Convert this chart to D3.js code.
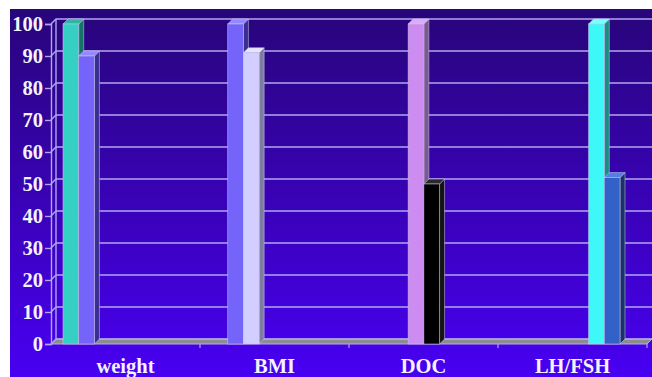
<!DOCTYPE html>
<html>
<head>
<meta charset="utf-8">
<script src="https://cdn.jsdelivr.net/npm/d3@7/dist/d3.min.js"></script>
<style>
  html, body { margin: 0; padding: 0; background: #ffffff; }
  svg { display: block; }
</style>
</head>
<body>
<svg id="chart" width="652" height="377"></svg>
<script>
// Categories along the floor of the chart
const categories = ["weight", "BMI", "DOC", "LH/FSH"];
// Series slot (column position) used by each bar in each category
const barSlots = [[0, 1], [1, 2], [3, 4], [5, 6]];
// Bar values per category, in the same order as barSlots
const barValues = [[100, 90], [100, 91], [100, 50], [100, 52]];
// Value-axis tick labels
const yTicks = [0, 10, 20, 30, 40, 50, 60, 70, 80, 90, 100];

// Face colours per series slot: front, side, top
const slotColors = [
  { front: "#36cfc4", side: "#167466", top: "#2fb3a2" },
  { front: "#7464fa", side: "#3a2e92", top: "#9587ff" },
  { front: "#d2ceff", side: "#7f7ca2", top: "#e6e4ff" },
  { front: "#cc8cf0", side: "#7a5a92", top: "#dcaaf8" },
  { front: "#000000", side: "#141414", top: "#2a2a2a" },
  { front: "#3ef8f8", side: "#1a8c82", top: "#7affff" },
  { front: "#3262c8", side: "#1a326c", top: "#5282e0" }
];

const svg = d3.select("#chart");
const W = 652, H = 377;

// Background panel with vertical gradient
const defs = svg.append("defs");
const grad = defs.append("linearGradient").attr("id", "bg")
  .attr("x1", 0).attr("y1", 0).attr("x2", 0).attr("y2", 1);
grad.append("stop").attr("offset", "0%").attr("stop-color", "#28057a");
grad.append("stop").attr("offset", "55%").attr("stop-color", "#3a02ba");
grad.append("stop").attr("offset", "100%").attr("stop-color", "#4800f2");
svg.append("rect").attr("x", 10).attr("y", 9).attr("width", W - 10).attr("height", H - 9)
  .attr("fill", "url(#bg)");

// 3D geometry: front plane and depth offset
const front = { left: 51, right: 647 };
const depth = { dx: 5, dy: -5 };

const y = d3.scaleLinear().domain([0, 100]).range([344, 24]);
const x0 = d3.scaleBand().domain(categories).range([front.left, front.right]).padding(0);
const x1 = d3.scaleBand().domain(d3.range(slotColors.length)).range([12, 122]).padding(0);

const gridColor = "#aea6ee";
const labelColor = "#f4f2ff";

// Floor slab
const y0 = y(0);
svg.append("polygon")
  .attr("points", [
    [front.left, y0], [front.right, y0],
    [front.right + depth.dx, y0 + depth.dy], [front.left + depth.dx, y0 + depth.dy]
  ].map(p => p.join(",")).join(" "))
  .attr("fill", "#8d8d8d")
  .attr("stroke", "#b4aee6").attr("stroke-width", 1);

// Gridlines: short diagonal on the side wall, then across the back wall
const grid = svg.append("g");
yTicks.forEach(t => {
  const yy = y(t);
  grid.append("path")
    .attr("d", `M${front.left},${yy}L${front.left + depth.dx},${yy + depth.dy}L${front.right + depth.dx},${yy + depth.dy}`)
    .attr("fill", "none").attr("stroke", gridColor).attr("stroke-width", 1.4);
});
// Back wall left edge
grid.append("line")
  .attr("x1", front.left + depth.dx).attr("x2", front.left + depth.dx)
  .attr("y1", y(0) + depth.dy).attr("y2", y(100) + depth.dy)
  .attr("stroke", gridColor).attr("stroke-width", 1.4);

// Value axis line and ticks
const axisY = svg.append("g")
  .attr("transform", `translate(${front.left},0)`)
  .call(d3.axisLeft(y).tickValues(yTicks).tickSize(6).tickPadding(2).tickFormat(d3.format("d")));
axisY.select(".domain").attr("stroke", gridColor).attr("stroke-width", 1.4);
axisY.selectAll(".tick line").attr("stroke", gridColor).attr("stroke-width", 1.4);
axisY.selectAll(".tick text")
  .attr("fill", labelColor)
  .attr("font-family", "'Liberation Serif', 'Times New Roman', serif")
  .attr("font-weight", "bold")
  .attr("font-size", 20.5)
  .attr("dy", "0.34em");

// Category axis: boundary ticks and labels
const axisX = svg.append("g");
x0.domain().forEach((c, i) => {
  const xb = x0(c) + x0.bandwidth();
  axisX.append("line")
    .attr("x1", xb).attr("x2", xb).attr("y1", y0).attr("y2", y0 + 4)
    .attr("stroke", gridColor).attr("stroke-width", 1.2);
  axisX.append("text")
    .attr("x", x0(c) + x0.bandwidth() / 2)
    .attr("y", 373)
    .attr("text-anchor", "middle")
    .attr("fill", labelColor)
    .attr("font-family", "'Liberation Serif', 'Times New Roman', serif")
    .attr("font-weight", "bold")
    .attr("font-size", 20.5)
    .text(c);
});

// Bars drawn left to right so each one overlaps the side of the previous
const bars = [];
categories.forEach((c, ci) => {
  barSlots[ci].forEach((s, bi) => {
    bars.push({ cat: c, slot: s, value: barValues[ci][bi] });
  });
});

const barLayer = svg.append("g");
const edge = "rgba(205,200,235,0.75)";
bars.forEach(b => {
  const xl = x0(b.cat) + x1(b.slot);
  const xr = xl + x1.bandwidth();
  const yt = y(b.value);
  const col = slotColors[b.slot];
  const g = barLayer.append("g");
  const pts = arr => arr.map(p => p.join(",")).join(" ");
  // side face
  g.append("polygon")
    .attr("points", pts([[xr, yt], [xr + depth.dx, yt + depth.dy], [xr + depth.dx, y0 + depth.dy], [xr, y0]]))
    .attr("fill", col.side).attr("stroke", edge).attr("stroke-width", 0.7);
  // top face
  g.append("polygon")
    .attr("points", pts([[xl, yt], [xr, yt], [xr + depth.dx, yt + depth.dy], [xl + depth.dx, yt + depth.dy]]))
    .attr("fill", col.top).attr("stroke", edge).attr("stroke-width", 0.7);
  // front face
  g.append("rect")
    .attr("x", xl).attr("y", yt)
    .attr("width", x1.bandwidth()).attr("height", y0 - yt)
    .attr("fill", col.front).attr("stroke", edge).attr("stroke-width", 0.7);
});
</script>
</body>
</html>
